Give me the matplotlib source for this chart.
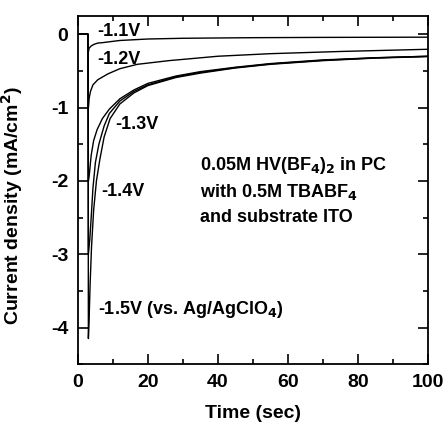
import matplotlib
matplotlib.use("Agg")
import matplotlib.pyplot as plt
from matplotlib.ticker import MultipleLocator

# ── data ───────────────────────────────────────
t_11 = [0, 2.9, 3.0, 3.2, 3.8, 4.5, 5.7, 7.0, 8.6, 12, 20, 30, 50, 70, 100]
j_11 = [0, 0, -0.24, -0.19, -0.16, -0.14, -0.12, -0.115, -0.105, -0.085, -0.065, -0.055, -0.047, -0.043, -0.04]

t_12 = [0, 2.9, 3.0, 3.2, 3.6, 4.3, 5.7, 8.6, 12, 17, 26, 40, 55, 75, 100]
j_12 = [0, 0, -1.0, -0.88, -0.78, -0.69, -0.62, -0.54, -0.47, -0.41, -0.36, -0.30, -0.265, -0.235, -0.205]

t_13 = [0, 2.9, 3.0, 3.3, 3.8, 4.5, 5.5, 7.0, 9.0, 12, 16, 20, 28, 35, 45, 55, 70, 85, 100]
j_13 = [0, 0, -2.0, -1.9, -1.65, -1.45, -1.3, -1.15, -1.02, -0.88, -0.76, -0.67, -0.57, -0.51, -0.45, -0.40, -0.35, -0.32, -0.30]

t_14 = [0, 2.9, 3.0, 3.4, 3.8, 4.3, 5.0, 6.0, 7.5, 9.0, 12, 16, 20, 28, 35, 45, 55, 70, 85, 100]
j_14 = [0, 0, -3.0, -2.8, -2.5, -2.1, -1.75, -1.5, -1.25, -1.08, -0.91, -0.78, -0.69, -0.58, -0.52, -0.455, -0.405, -0.355, -0.322, -0.30]

t_15 = [0, 2.9, 3.0, 3.2, 3.5, 3.9, 4.5, 5.3, 6.3, 7.5, 9.2, 12, 16, 20, 28, 35, 45, 55, 70, 85, 100]
j_15 = [0, 0, -4.15, -3.9, -3.4, -2.9, -2.4, -2.0, -1.7, -1.4, -1.15, -0.95, -0.80, -0.70, -0.59, -0.53, -0.46, -0.41, -0.36, -0.325, -0.305]

curves = [(t_11, j_11), (t_12, j_12), (t_13, j_13), (t_14, j_14), (t_15, j_15)]

labels = ["-1.1V", "-1.2V", "-1.3V", "-1.4V", "-1.5V (vs. Ag/AgClO$_4$)"]
label_t = [5.4, 5.4, 10.6, 6.8, 5.8]
label_j = [0.04, -0.34, -1.23, -2.15, -3.76]

note_lines = ["0.05M HV(BF$_4$)$_2$ in PC", "with 0.5M TBABF$_4$", "and substrate ITO"]

# ── style ──────────────────────────────────────
plt.rcParams["font.family"] = ["Liberation Sans", "DejaVu Sans"]
plt.rcParams["font.weight"] = "bold"
plt.rcParams["mathtext.default"] = "bf"
plt.rcParams["axes.unicode_minus"] = False

fig = plt.figure(figsize=(4.45, 4.30), dpi=100)
ax = fig.add_axes([0.175, 0.153, 0.787, 0.810])

for t, j in curves:
    ax.plot(t, j, color="black", lw=1.0)

for txt, x, y in zip(labels, label_t, label_j):
    ax.text(x, y, txt, fontsize=13, fontweight="bold", va="center", ha="left")

for i, txt in enumerate(note_lines):
    ax.text(35, -1.79 - i * 0.355, txt, fontsize=13, fontweight="bold", va="center", ha="left")

ax.set_xlim(0, 100)
ax.set_ylim(-4.5, 0.25)
ax.xaxis.set_major_locator(MultipleLocator(20))
ax.xaxis.set_minor_locator(MultipleLocator(10))
ax.yaxis.set_major_locator(MultipleLocator(1))
ax.yaxis.set_minor_locator(MultipleLocator(0.5))
ax.tick_params(which="both", direction="in", top=True, right=True, width=1.2)
ax.tick_params(which="major", length=7.5, labelsize=14, pad=7)
ax.tick_params(which="minor", length=3.8)
for lab in ax.get_xticklabels() + ax.get_yticklabels():
    lab.set_fontweight("bold")
for sp in ax.spines.values():
    sp.set_linewidth(1.3)

ax.set_xlabel("Time (sec)", fontsize=14, fontweight="bold", labelpad=10)
ax.set_ylabel("Current density (mA/cm$^2$)", fontsize=14, fontweight="bold")
ax.yaxis.set_label_coords(-0.151, 0.454)

fig.savefig("out.png", dpi=100)
